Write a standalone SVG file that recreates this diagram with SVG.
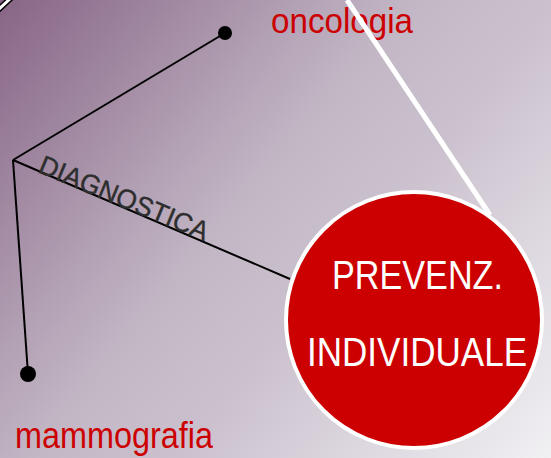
<svg xmlns="http://www.w3.org/2000/svg" width="551" height="458" viewBox="0 0 551 458">
<defs>
<linearGradient id="bg" x1="0" y1="0" x2="551" y2="458" gradientUnits="userSpaceOnUse">
<stop offset="0" stop-color="#876586"/>
<stop offset="0.36" stop-color="#b8a8ba"/>
<stop offset="0.45" stop-color="#c3b7c5"/>
<stop offset="0.6" stop-color="#cbc1ce"/>
<stop offset="1" stop-color="#f1f0f3"/>
</linearGradient>
<style>
.lbl{font-family:"Liberation Sans",Arial,sans-serif;fill:#cc0000;}
.conn{stroke:#000;stroke-width:2;fill:none;}
.dot{fill:#000;}
.ctext{font-family:"Liberation Sans",Arial,sans-serif;fill:#fff;font-size:41px;}
</style>
</defs>
<rect width="551" height="458" fill="url(#bg)"/>
<line x1="-2" y1="10" x2="12" y2="-3" stroke="#000" stroke-width="6"/>
<line x1="-2" y1="10" x2="12" y2="-3" stroke="#fff" stroke-width="3"/>
<g id="connectors">
<line class="conn" x1="13" y1="160" x2="225" y2="33"/>
<line class="conn" x1="13" y1="160" x2="28" y2="374"/>
<line class="conn" x1="13" y1="160" x2="290" y2="279"/>
<text x="37" y="172" transform="rotate(22.5 37 172)" font-family="'Liberation Sans',Arial,sans-serif" font-size="27" fill="#2e2e2e" stroke="#2e2e2e" stroke-width="0.4" textLength="181" lengthAdjust="spacingAndGlyphs">DIAGNOSTICA</text>
</g>
<g id="oncologia">
<circle class="dot" cx="225" cy="33" r="7"/>
<text class="lbl" x="271" y="33" font-size="35" textLength="142" lengthAdjust="spacingAndGlyphs">oncologia</text>
</g>
<g id="mammografia">
<circle class="dot" cx="28" cy="374" r="8"/>
<text class="lbl" x="15" y="448" font-size="36" textLength="198" lengthAdjust="spacingAndGlyphs">mammografia</text>
</g>
<line x1="347" y1="0" x2="490" y2="215" stroke="#fff" stroke-width="5"/>
<g id="prevenzione">
<circle cx="414" cy="320" r="128" fill="#cc0000" stroke="#fff" stroke-width="4"/>
<text class="ctext" x="332" y="289" textLength="171" lengthAdjust="spacingAndGlyphs">PREVENZ.</text>
<text class="ctext" x="307" y="366" textLength="220" lengthAdjust="spacingAndGlyphs">INDIVIDUALE</text>
</g>
</svg>
